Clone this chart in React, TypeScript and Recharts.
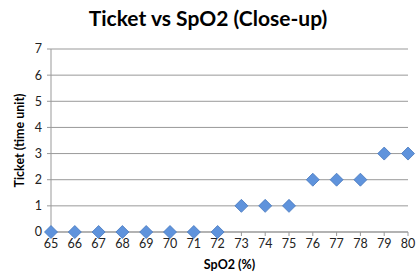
import { ScatterChart, Scatter, XAxis, YAxis, CartesianGrid, Label } from 'recharts';

const spo2 = [65, 66, 67, 68, 69, 70, 71, 72, 73, 74, 75, 76, 77, 78, 79, 80];
const ticket = [0, 0, 0, 0, 0, 0, 0, 0, 1, 1, 1, 2, 2, 2, 3, 3];
const xTicks = [65, 66, 67, 68, 69, 70, 71, 72, 73, 74, 75, 76, 77, 78, 79, 80];
const yTicks = [0, 1, 2, 3, 4, 5, 6, 7];

const data = spo2.map((x, i) => ({ x, y: ticket[i] }));

const FONT = 'Lato, "Open Sans", sans-serif';

// rotated-square marker like the Excel diamond
const Diamond = (props: any) => {
  const { cx, cy } = props;
  const r = 6.5;
  return (
    <polygon
      points={`${cx},${cy - r} ${cx + r},${cy} ${cx},${cy + r} ${cx - r},${cy}`}
      fill="#5f93dc"
      stroke="#4677bd"
      strokeWidth={0.8}
    />
  );
};

export default function App() {
  return (
    <div style={{ position: 'absolute', left: 0, top: 0, width: 416, height: 277, background: '#fff', fontFamily: FONT }}>
      <div style={{ position: 'absolute', top: 5, left: 0, width: 416, textAlign: 'center', fontSize: 21, fontWeight: 700, color: '#000' }}>
        Ticket vs SpO2 (Close-up)
      </div>
      <ScatterChart width={416} height={277} margin={{ top: 49, right: 8, bottom: 15, left: 21 }}>
        <CartesianGrid horizontal vertical={false} stroke="#999" strokeWidth={1} />
        <XAxis
          type="number"
          dataKey="x"
          domain={[65, 80]}
          ticks={xTicks}
          interval={0}
          height={30}
          stroke="#999"
          tickSize={4}
          tickMargin={3}
          tick={{ fill: '#222', fontSize: 12.5, fontFamily: FONT }}
        >
          <Label value="SpO2 (%)" position="insideBottom" offset={-7} style={{ fontWeight: 700, fontSize: 12.5, fill: '#000', fontFamily: FONT }} />
        </XAxis>
        <YAxis
          type="number"
          dataKey="y"
          domain={[0, 7]}
          ticks={yTicks}
          interval={0}
          width={30}
          stroke="#999"
          tickSize={4}
          tickMargin={5}
          tick={{ fill: '#222', fontSize: 12.5, fontFamily: FONT }}
        >
          <Label value="Ticket (time unit)" angle={-90} position="insideLeft" offset={-1} style={{ textAnchor: 'middle', fontWeight: 700, fontSize: 12.5, fill: '#000', fontFamily: FONT }} />
        </YAxis>
        <Scatter data={data} shape={<Diamond />} isAnimationActive={false} />
      </ScatterChart>
    </div>
  );
}
